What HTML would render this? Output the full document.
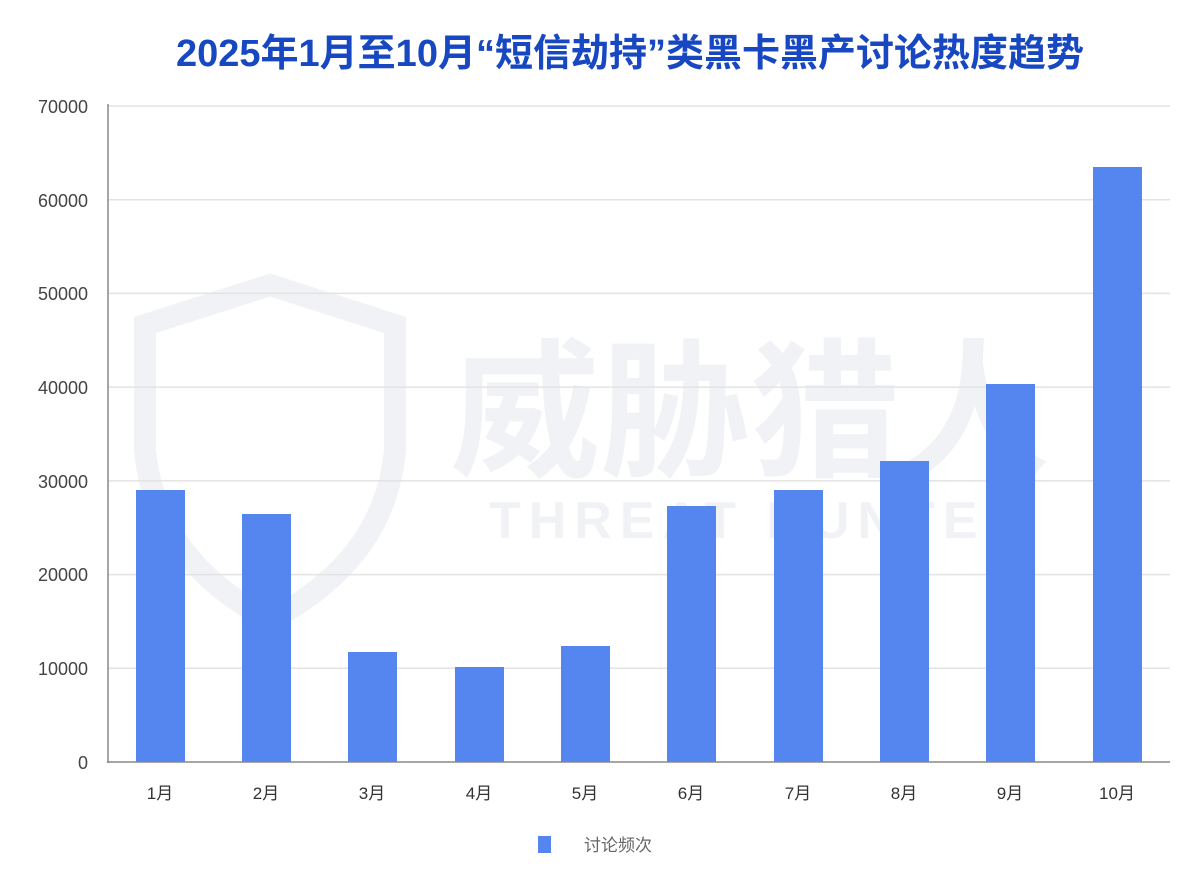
<!DOCTYPE html>
<html><head><meta charset="utf-8"><style>
html,body{margin:0;padding:0;background:#fff;}
svg{display:block;}
</style></head><body>
<svg width="1200" height="878" viewBox="0 0 1200 878" xmlns="http://www.w3.org/2000/svg" font-family="Liberation Sans, Noto Sans CJK SC, sans-serif">
<rect width="1200" height="878" fill="#fff"/>
<g fill="#f1f2f5">
<text x="750" y="465" font-size="150" font-weight="bold" text-anchor="middle" font-family="Noto Sans CJK SC, sans-serif">威胁猎人</text>
<text x="760" y="538" font-size="52" font-weight="bold" text-anchor="middle" letter-spacing="8">THREAT HUNTER</text>
<path d="M270 285 L395 325 L395 450 Q385 560 270 620 Q155 560 145 450 L145 325 Z" fill="none" stroke="#f1f2f5" stroke-width="22"/>
</g>
<text x="630" y="66" font-size="38" font-weight="bold" fill="#1748c2" text-anchor="middle" font-family="Liberation Sans, Noto Sans CJK SC, sans-serif">2025年1月至10月“短信劫持”类黑卡黑产讨论热度趋势</text>
<g stroke="#e3e3e3" stroke-width="1.5">
<line x1="108" y1="106" x2="1170" y2="106"/>
<line x1="108" y1="199.7" x2="1170" y2="199.7"/>
<line x1="108" y1="293.4" x2="1170" y2="293.4"/>
<line x1="108" y1="387.1" x2="1170" y2="387.1"/>
<line x1="108" y1="480.9" x2="1170" y2="480.9"/>
<line x1="108" y1="574.6" x2="1170" y2="574.6"/>
<line x1="108" y1="668.3" x2="1170" y2="668.3"/>
</g>
<g font-size="18" fill="#444" text-anchor="end">
<text x="88" y="113">70000</text>
<text x="88" y="207">60000</text>
<text x="88" y="300">50000</text>
<text x="88" y="394">40000</text>
<text x="88" y="488">30000</text>
<text x="88" y="581">20000</text>
<text x="88" y="675">10000</text>
<text x="88" y="769">0</text>
</g>
<g fill="#5585ee">
<rect x="136" y="490" width="49" height="272"/>
<rect x="242" y="514" width="49" height="248"/>
<rect x="348" y="652" width="49" height="110"/>
<rect x="455" y="667" width="49" height="95"/>
<rect x="561" y="646" width="49" height="116"/>
<rect x="667" y="506" width="49" height="256"/>
<rect x="774" y="490" width="49" height="272"/>
<rect x="880" y="461" width="49" height="301"/>
<rect x="986" y="384" width="49" height="378"/>
<rect x="1093" y="167" width="49" height="595"/>
</g>
<line x1="108" y1="104" x2="108" y2="763" stroke="#888" stroke-width="1.5"/>
<line x1="107" y1="762" x2="1170" y2="762" stroke="#888" stroke-width="1.5"/>
<g font-size="17" fill="#333" text-anchor="middle" font-family="Liberation Sans, Noto Sans CJK SC, sans-serif">
<text x="160" y="799">1月</text>
<text x="266" y="799">2月</text>
<text x="372" y="799">3月</text>
<text x="479" y="799">4月</text>
<text x="585" y="799">5月</text>
<text x="691" y="799">6月</text>
<text x="798" y="799">7月</text>
<text x="904" y="799">8月</text>
<text x="1010" y="799">9月</text>
<text x="1117" y="799">10月</text>
</g>
<rect x="538" y="836" width="13" height="17" fill="#5585ee"/>
<text x="584" y="851" font-size="17" fill="#666" font-family="Liberation Sans, Noto Sans CJK SC, sans-serif">讨论频次</text>
</svg>
</body></html>
